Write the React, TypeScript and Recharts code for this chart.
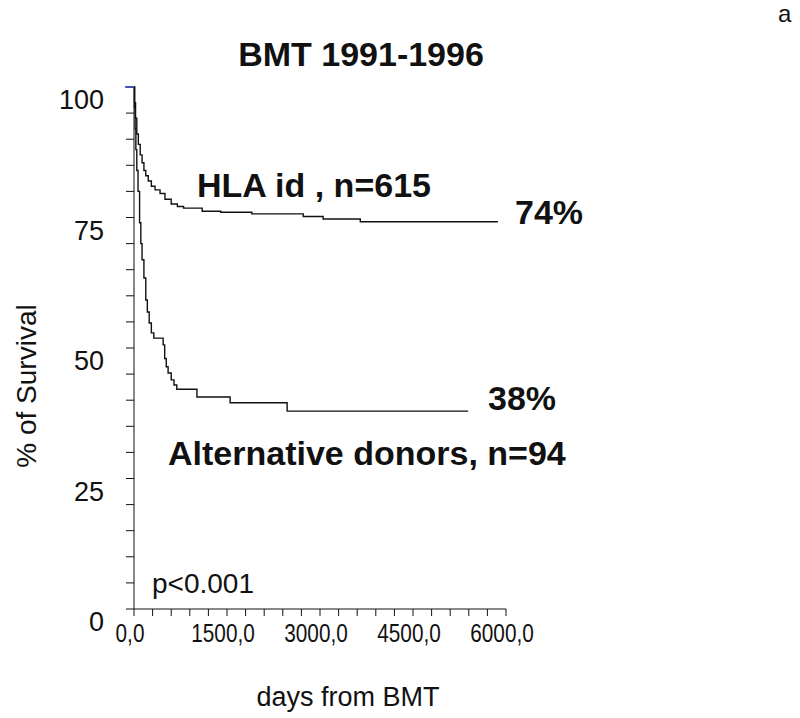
import { LineChart, Line, XAxis, YAxis } from 'recharts';

// Kaplan-Meier steps: [day, % survival]
const hlaDays = [0, 10, 25, 45, 70, 100, 130, 160, 190, 230, 280, 340, 420, 500, 600, 700, 800, 1100, 1400, 1900, 2730, 3050, 3650, 5870];
const hlaSurv = [100, 97, 94, 91, 89, 87, 85.5, 84, 83, 82, 81, 80.3, 79.6, 78.5, 77.6, 77.1, 76.8, 76.2, 76, 75.7, 75.2, 74.7, 74.2, 74.2];

const altDays = [0, 8, 18, 30, 45, 65, 90, 110, 130, 160, 190, 215, 245, 280, 320, 470, 495, 520, 550, 600, 645, 690, 1015, 1550, 2470, 5390];
const altSurv = [100, 96, 92, 88, 84, 80, 74, 70, 66.9, 63.4, 59.2, 56.9, 54.8, 52.9, 51.9, 50.6, 48, 46.4, 45.2, 43.9, 42.9, 42.1, 40.6, 39.5, 37.9, 37.9];

const xTicks = Array.from({ length: 21 }, (_, i) => i * 300);
const yTicks = Array.from({ length: 21 }, (_, i) => i * 5);
const xLabelEvery = 1500;
const yLabelEvery = 25;

const hlaData = hlaDays.map((d, i) => ({ day: d, surv: hlaSurv[i] }));
const altData = altDays.map((d, i) => ({ day: d, surv: altSurv[i] }));

const font = 'Arial, "Liberation Sans", sans-serif';

function XTick(props: any) {
  const { x, y, payload } = props;
  if (payload.value % xLabelEvery !== 0) return null;
  // the original tick labels are a narrow face: squeeze Arial a bit
  return (
    <text
      transform={`translate(${x - 4},${y + 24}) scale(0.83,1)`}
      textAnchor="middle"
      fontSize={25}
      fontFamily={font}
      fill="#111"
    >
      {payload.value.toFixed(1).replace('.', ',')}
    </text>
  );
}

function YTick(props: any) {
  const { x, y, payload } = props;
  if (payload.value % yLabelEvery !== 0) return null;
  return (
    <text x={x - 20} y={y + 22} textAnchor="end" fontSize={27} fontFamily={font} fill="#111">
      {payload.value}
    </text>
  );
}

export default function App() {
  return (
    <div style={{ position: 'absolute', left: 0, top: 0, width: 800, height: 718, background: '#fff' }}>
      <LineChart width={800} height={718} margin={{ top: 87, right: 294, left: 74, bottom: 49 }}>
        <XAxis
          type="number"
          dataKey="day"
          domain={[0, 6000]}
          ticks={xTicks}
          interval={0}
          tick={<XTick />}
          tickSize={7}
          stroke="#111"
          height={60}
          allowDuplicatedCategory={false}
        />
        <YAxis
          type="number"
          dataKey="surv"
          domain={[0, 100]}
          ticks={yTicks}
          interval={0}
          tick={<YTick />}
          tickSize={8}
          stroke="#111"
          width={60}
        />
        <Line data={hlaData} dataKey="surv" type="stepAfter" stroke="#111" strokeWidth={1.4} dot={false} isAnimationActive={false} />
        <Line data={altData} dataKey="surv" type="stepAfter" stroke="#111" strokeWidth={1.4} dot={false} isAnimationActive={false} />
      </LineChart>
      <svg width={800} height={718} style={{ position: 'absolute', left: 0, top: 0, pointerEvents: 'none' }}>
        <line x1={125} y1={87} x2={133} y2={87} stroke="#2233cc" strokeWidth={1.4} />
        <text x={778} y={22} fontSize={24} fontFamily={font} fill="#111">a</text>
        <text x={361} y={66} textAnchor="middle" fontSize={34} fontWeight="bold" fontFamily={font} fill="#111">BMT 1991-1996</text>
        <text x={197} y={197} fontSize={34} fontWeight="bold" fontFamily={font} fill="#111">HLA id , n=615</text>
        <text x={515} y={224} fontSize={34} fontWeight="bold" fontFamily={font} fill="#111">74%</text>
        <text x={488} y={410} fontSize={34} fontWeight="bold" fontFamily={font} fill="#111">38%</text>
        <text x={168} y={465} fontSize={34} fontWeight="bold" fontFamily={font} fill="#111">Alternative donors, n=94</text>
        <text x={152} y={593} fontSize={28} fontFamily={font} fill="#111">p&lt;0.001</text>
        <text x={348} y={706} textAnchor="middle" fontSize={27} fontFamily={font} fill="#111">days from BMT</text>
        <text transform="translate(36,386) rotate(-90)" textAnchor="middle" fontSize={28} fontFamily={font} fill="#111">% of Survival</text>
      </svg>
    </div>
  );
}
